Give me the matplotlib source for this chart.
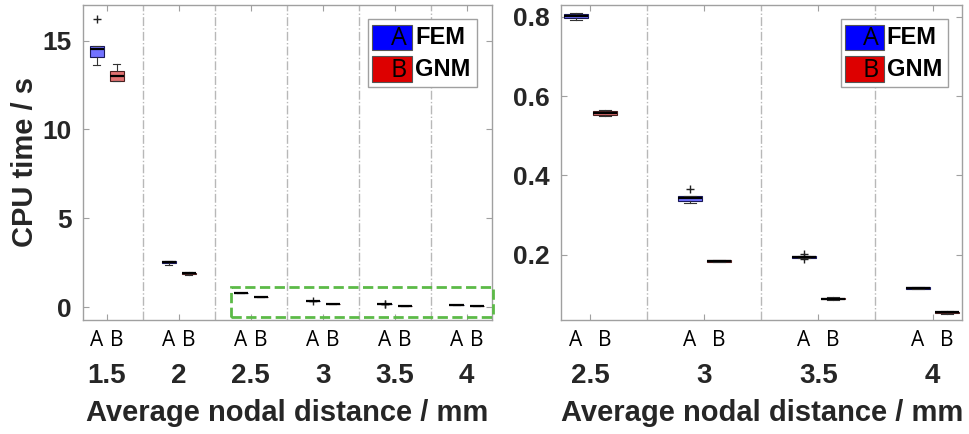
import numpy as np
import matplotlib
matplotlib.use('Agg')
import matplotlib.pyplot as plt
from matplotlib.patches import Rectangle

matplotlib.rcParams['font.family'] = 'Liberation Sans'

# data (box statistics)
groups = ['1.5', '2', '2.5', '3', '3.5', '4']

fem_q1  = [14.05, 2.46, 0.798, 0.336, 0.192, 0.114]
fem_med = [14.55, 2.52, 0.803, 0.342, 0.194, 0.116]
fem_q3  = [14.70, 2.58, 0.808, 0.347, 0.196, 0.118]
fem_lo  = [13.65, 2.36, 0.792, 0.331, 0.192, 0.114]
fem_hi  = [14.70, 2.60, 0.810, 0.347, 0.196, 0.118]
fem_fl  = [[16.2], [], [], [0.366], [0.201, 0.188], []]

gnm_q1  = [12.75, 1.87, 0.552, 0.182, 0.087, 0.052]
gnm_med = [13.00, 1.90, 0.557, 0.184, 0.089, 0.054]
gnm_q3  = [13.30, 1.93, 0.562, 0.186, 0.091, 0.056]
gnm_lo  = [12.70, 1.80, 0.549, 0.181, 0.086, 0.051]
gnm_hi  = [13.70, 2.00, 0.566, 0.187, 0.092, 0.057]
gnm_fl  = [[], [], [], [], [], []]

txt = '#262626'
fem_fill, gnm_fill = '#7272ff', '#e27272'
fem_edge, gnm_edge = '#1a1a5a', '#4a2020'


def stats(q1, med, q3, lo, hi, fl, idx):
    return [dict(q1=q1[i], med=med[i], q3=q3[i], whislo=lo[i], whishi=hi[i],
                 fliers=fl[i]) for i in idx]


def draw_panel(ax, idx, off, width, ylim, xlim):
    pos = np.arange(1, len(idx) + 1)
    for st, p, fc, ec in [(stats(fem_q1, fem_med, fem_q3, fem_lo, fem_hi, fem_fl, idx), pos - off, fem_fill, fem_edge),
                          (stats(gnm_q1, gnm_med, gnm_q3, gnm_lo, gnm_hi, gnm_fl, idx), pos + off, gnm_fill, gnm_edge)]:
        ax.bxp(st, positions=p, widths=width, patch_artist=True, manage_ticks=False,
               boxprops=dict(facecolor=fc, edgecolor=ec, linewidth=0.8),
               medianprops=dict(color='black', linewidth=1.6),
               whiskerprops=dict(color='#333333', linewidth=0.8),
               capprops=dict(color='#333333', linewidth=0.8),
               flierprops=dict(marker='+', markeredgecolor='#222222', markersize=6))
    for s in pos[:-1] + 0.5:
        ax.axvline(s, color='#b8b8b8', linestyle='-.', linewidth=1.0, zorder=0)
    ax.set_xlim(*xlim)
    ax.set_ylim(*ylim)
    # group labels (major) and A/B labels (minor)
    ax.set_xticks(pos)
    ax.set_xticklabels([groups[i] for i in idx], fontsize=20, fontweight='bold', color=txt)
    ab_pos = np.sort(np.concatenate([pos - off, pos + off]))
    ax.set_xticks(ab_pos, minor=True)
    ax.set_xticklabels(['A', 'B'] * len(idx), minor=True, fontsize=15,
                       family='Open Sans', color='black')
    ax.tick_params(axis='x', which='major', direction='in', pad=31, length=4,
                   top=True, color='#a0a0a0')
    ax.tick_params(axis='x', which='minor', length=0, pad=7, top=False)
    ax.tick_params(axis='y', direction='in', right=True, length=4, color='#a0a0a0',
                   labelsize=19, labelcolor=txt, pad=8)
    for lab in ax.get_yticklabels():
        lab.set_fontweight('bold')
    for sp in ax.spines.values():
        sp.set_color('#a0a0a0')
        sp.set_linewidth(1.0)
    ax.set_xlabel('Average nodal distance / mm', fontsize=21, fontweight='bold',
                  color=txt, labelpad=7)

    # legend drawn by hand: coloured patch with letter, then name
    ax.add_patch(Rectangle((0.698, 0.74), 0.266, 0.214, transform=ax.transAxes,
                           facecolor='white', edgecolor='#a0a0a0', linewidth=1.0, zorder=5))
    for y0, col, letter, name in [(0.857, '#0000ff', 'A', 'FEM'), (0.756, '#dd0000', 'B', 'GNM')]:
        ax.add_patch(Rectangle((0.707, y0), 0.098, 0.081, transform=ax.transAxes,
                               facecolor=col, edgecolor='#555555', linewidth=0.8, zorder=6))
        ax.text(0.772, y0 + 0.037, letter, transform=ax.transAxes, fontsize=18,
                family='Open Sans', ha='center', va='center', color='black', zorder=7)
        ax.text(0.812, y0 + 0.04, name, transform=ax.transAxes, fontsize=17,
                fontweight='bold', ha='left', va='center', color='black', zorder=7)


fig = plt.figure(figsize=(9.69, 4.34), dpi=100)
ax1 = fig.add_axes([0.0857, 0.2627, 0.422, 0.7258])
ax2 = fig.add_axes([0.579, 0.2627, 0.414, 0.7258])

draw_panel(ax1, [0, 1, 2, 3, 4, 5], 0.14, 0.2, (-0.72, 17.0), (0.67, 6.35))
ax1.set_yticks([0, 5, 10, 15])
ax1.set_ylabel('CPU time / s', fontsize=21, fontweight='bold', color=txt, labelpad=3)

draw_panel(ax2, [2, 3, 4, 5], 0.127, 0.21, (0.035, 0.83), (0.745, 4.26))
ax2.set_yticks([0.2, 0.4, 0.6, 0.8])
ax2.set_yticklabels(['0.2', '0.4', '0.6', '0.8'], fontweight='bold')

# green dashed box around the small values in the left panel
ax1.add_patch(Rectangle((2.72, -0.56), 3.64, 1.69, fill=False, edgecolor='#5cba47',
                        linestyle='--', linewidth=2.0, clip_on=False, zorder=4))

fig.savefig('out.png', dpi=100)
